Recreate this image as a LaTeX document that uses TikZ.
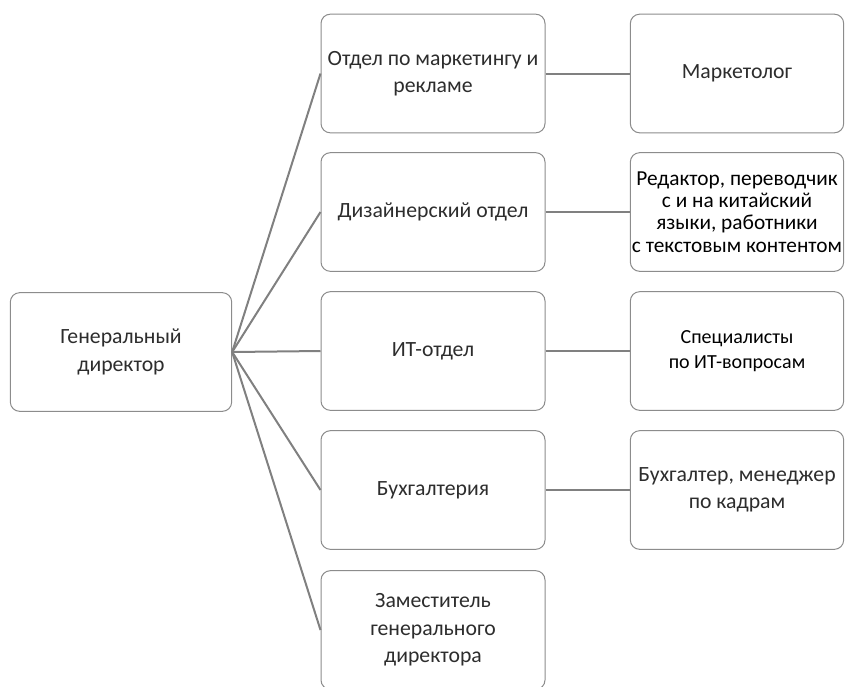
\documentclass[tikz,border=0pt]{standalone}
\usepackage{fontspec}
\setmainfont{Carlito}
\usetikzlibrary{positioning}
\tikzset{every picture/.style={line width=0.75pt}}
\tikzset{
  orgbox/.style={draw={rgb, 255:red, 140; green, 140; blue, 140 }, fill=white, rounded corners=7pt,
    minimum width=168pt, minimum height=89pt, align=center, inner sep=1pt,
    text={rgb, 255:red, 45; green, 45; blue, 45 }, font=\fontsize{16.3}{20.5}\selectfont},
  orgdark/.style={orgbox, text=black, font=\fontsize{16}{16.8}\selectfont},
  orglink/.style={draw={rgb, 255:red, 128; green, 128; blue, 128 }, line width=1.5pt}
}

\begin{document}
\begin{tikzpicture}[x=0.75pt,y=0.75pt,yscale=-1,xscale=1]
\path [use as bounding box] (0,0) rectangle (845,686); %set diagram size 845 x 686

%Shape: Rounded Rect, head
\node [orgbox, minimum width=166pt] (gendir) at (121,352) {Генеральный\\директор};

%Shape: Rounded Rect, departments
\node [orgbox] (marketing) at (433,73.5) {Отдел по маркетингу и\\рекламе};
\node [orgbox] (design) at (433,212) {Дизайнерский отдел};
\node [orgbox] (itdept) at (433,351) {ИТ-отдел};
\node [orgbox] (account) at (433,490) {Бухгалтерия};
\node [orgbox] (deputy) at (433,630) {Заместитель\\генерального\\директора};

%Shape: Rounded Rect, staff
\node [orgbox, minimum width=160pt] (marketer) at (737,73.5) {Маркетолог};
\node [orgdark, minimum width=160pt] (editor) at (737,212) {Редактор, переводчик\\с и на китайский\\языки, работники\\с текстовым контентом};
\node [orgdark, minimum width=160pt, font=\fontsize{15}{19}\selectfont] (itstaff) at (737,351) {Специалисты\\по ИТ-вопросам};
\node [orgbox, minimum width=160pt] (bookkeeper) at (737,490) {Бухгалтер, менеджер\\по кадрам};

%Straight Lines
\foreach \d in {marketing,design,itdept,account,deputy}
  \draw [orglink] (gendir.east) -- (\d.west) ;
\draw [orglink] (marketing) -- (marketer) ;
\draw [orglink] (design) -- (editor) ;
\draw [orglink] (itdept) -- (itstaff) ;
\draw [orglink] (account) -- (bookkeeper) ;

\end{tikzpicture}
\end{document}
